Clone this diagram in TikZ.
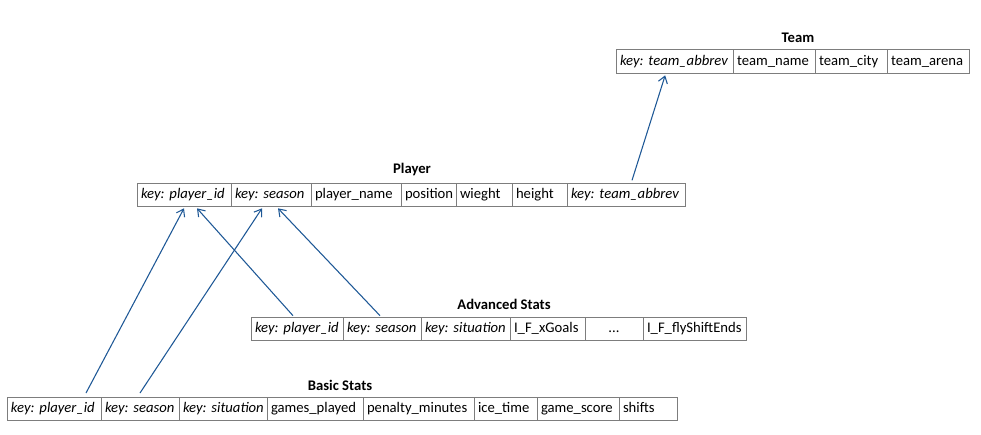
\documentclass[tikz,border=0pt]{standalone}
\usepackage{fontspec}
\setmainfont{Carlito}
\usetikzlibrary{positioning,arrows.meta}
\definecolor{cellgray}{RGB}{125,125,125}
\definecolor{linkblue}{RGB}{30,88,150}
\hyphenpenalty=10000
\exhyphenpenalty=10000
\begin{document}
\begin{tikzpicture}[x=0.75pt, y=-0.75pt, font=\fontsize{11}{13}\selectfont,
    cell/.style={draw=cellgray, line width=0.75pt, shape=rectangle, text width=#1, align=left, text height=8.5pt, text depth=2.5pt, minimum height=17.5pt, inner xsep=3pt, inner ysep=0pt, outer sep=0pt},
    first/.style={cell=#1, anchor=north west},
    title/.style={font=\fontsize{11}{13}\selectfont\bfseries},
    link/.style={linkblue, line width=0.8pt, -{Straight Barb[length=5pt, width=7pt]}}]
    \useasboundingbox (0,0) rectangle (981,435);

    % Team
    \node[title] at (798, 38) (teamtitle) {Team};
    \node[first=81.75pt] at (616, 50) (tkey) {\textit{key:~team\_abbrev}};
    \node[cell=55.5pt, right=0pt of tkey] (tname) {team\_name};
    \node[cell=48pt, right=0pt of tname] (tcity) {team\_city};
    \node[cell=55.5pt, right=0pt of tcity] (tarena) {team\_arena};

    % Player
    \node[title] at (412, 170) (playertitle) {Player};
    \node[first=64.5pt] at (137, 183) (ppid) {\textit{key:~player\_id}};
    \node[cell=54pt, right=0pt of ppid] (pseason) {\textit{key:~season}};
    \node[cell=61.5pt, right=0pt of pseason] (pname) {player\_name};
    \node[cell=35.25pt, right=0pt of pname] (ppos) {position};
    \node[cell=36pt, right=0pt of ppos] (pweight) {wieght};
    \node[cell=35.25pt, right=0pt of pweight] (pheight) {height};
    \node[cell=82.5pt, right=0pt of pheight] (pteam) {\textit{key:~team\_abbrev}};

    % Advanced Stats
    \node[title] at (504, 304) (advtitle) {Advanced Stats};
    \node[first=63pt] at (251, 317) (apid) {\textit{key:~player\_id}};
    \node[cell=52.5pt, right=0pt of apid] (aseason) {\textit{key:~season}};
    \node[cell=60.75pt, right=0pt of aseason] (asit) {\textit{key:~situation}};
    \node[cell=50.25pt, right=0pt of asit] (axg) {I\_F\_xGoals};
    \node[cell=37.5pt, align=center, right=0pt of axg] (adots) {...};
    \node[cell=71.25pt, right=0pt of adots] (afly) {I\_F\_flyShiftEnds};

    % Basic Stats
    \node[title] at (340, 385) (basictitle) {Basic Stats};
    \node[first=64.5pt] at (7, 397) (bpid) {\textit{key:~player\_id}};
    \node[cell=52.5pt, right=0pt of bpid] (bseason) {\textit{key:~season}};
    \node[cell=60pt, right=0pt of bseason] (bsit) {\textit{key:~situation}};
    \node[cell=66pt, right=0pt of bsit] (bgp) {games\_played};
    \node[cell=77.25pt, right=0pt of bgp] (bpim) {penalty\_minutes};
    \node[cell=41.25pt, right=0pt of bpim] (bice) {ice\_time};
    \node[cell=55.5pt, right=0pt of bice] (bgs) {game\_score};
    \node[cell=37.5pt, right=0pt of bgs] (bshifts) {shifts};

    % keys
    \draw[link] ([xshift=4.5pt, yshift=2pt]pteam.north) -- ([xshift=-7pt, yshift=-1.5pt]tkey.south);
    \draw[link] ([xshift=-3pt, yshift=1pt]apid.north) -- ([xshift=9.75pt, yshift=-1.5pt]ppid.south);
    \draw[link] ([xshift=-1.5pt, yshift=1pt]aseason.north) -- ([xshift=5.25pt, yshift=-1.5pt]pseason.south);
    \draw[link] ([xshift=24pt, yshift=3pt]bpid.north) -- ([yshift=-1.5pt]ppid.south);
    \draw[link] ([yshift=3pt]bseason.north) -- ([xshift=-6.75pt, yshift=-1.5pt]pseason.south);
\end{tikzpicture}
\end{document}
